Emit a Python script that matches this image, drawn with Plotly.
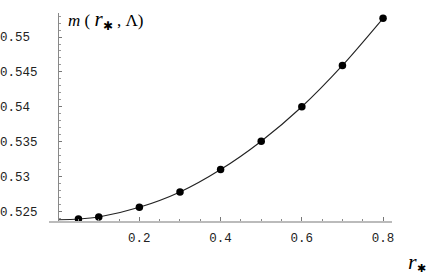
import plotly.graph_objects as go

# data
r_star = [0.05, 0.1, 0.2, 0.3, 0.4, 0.5, 0.6, 0.7, 0.8]
m_vals = [0.52389, 0.52418, 0.52557, 0.52777, 0.53099, 0.53506, 0.54000, 0.54593, 0.55269]
curve_r = [0.0, 0.05, 0.1, 0.2, 0.3, 0.4, 0.5, 0.6, 0.7, 0.8]
curve_m = [0.52378, 0.52389, 0.52418, 0.52557, 0.52777, 0.53099, 0.53506, 0.54000, 0.54593, 0.55269]

x_ticks = [0.2, 0.4, 0.6, 0.8]
x_ticklabels = ["0.2", "0.4", "0.6", "0.8"]
x_minor = [0.05, 0.1, 0.15, 0.25, 0.3, 0.35, 0.45, 0.5, 0.55, 0.65, 0.7, 0.75]
y_ticks = [0.525, 0.53, 0.535, 0.54, 0.545, 0.55]
y_ticklabels = ["0.525", "0.53\u00a0", "0.535", "0.54\u00a0", "0.545", "0.55\u00a0"]

W, H = 426, 273
ml, mr, mt, mb = 49, 34, 13, 52
x_range = [-0.0225, 0.822]
y_range = [0.52361, 0.55345]
plot_w = W - ml - mr
y_axis_pos = (0 - x_range[0]) / (x_range[1] - x_range[0])

fig = go.Figure()
fig.add_trace(go.Scatter(
    x=curve_r, y=curve_m, mode="lines", line=dict(color="#222", width=1.1, shape="spline", smoothing=0.8),
    hoverinfo="skip", showlegend=False))
fig.add_trace(go.Scatter(
    x=r_star, y=m_vals, mode="markers", marker=dict(color="black", size=7.5),
    showlegend=False))

mono = dict(family="Liberation Mono, DejaVu Sans Mono, monospace", size=12.5, color="#222")

fig.update_layout(
    width=W, height=H,
    margin=dict(l=ml, r=mr, t=mt, b=mb, autoexpand=False),
    paper_bgcolor="white", plot_bgcolor="white",
    xaxis=dict(
        range=x_range, showgrid=False, zeroline=False, automargin=False,
        showline=True, linecolor="#bbbbbb", linewidth=2,
        tickmode="array", tickvals=x_ticks, ticktext=x_ticklabels,
        ticks="inside", ticklen=4, tickcolor="#777", tickwidth=1,
        minor=dict(tickmode="array", tickvals=x_minor, ticks="inside", ticklen=2, tickcolor="#888"),
        tickfont=mono, ticklabelstandoff=4,
    ),
    yaxis=dict(
        range=y_range, showgrid=False, zeroline=False, automargin=False,
        anchor="free", position=y_axis_pos,
        showline=True, linecolor="#888888", linewidth=1,
        tickmode="array", tickvals=y_ticks, ticktext=y_ticklabels,
        ticks="inside", ticklen=3, tickcolor="#777", tickwidth=1,
        minor=dict(dtick=0.001, tick0=0.525, ticks="inside", ticklen=2, tickcolor="#999"),
        tickfont=mono, ticklabelstandoff=18,
    ),
    annotations=[
        dict(xref="paper", yref="paper", x=(66 - ml) / plot_w, y=1.0, xanchor="left", yanchor="middle",
             yshift=-7,
             text="<i>m</i> ( <span style='font-size:21px'><i>r</i></span><sub>\u2731</sub> , \u039b)",
             showarrow=False, font=dict(family="Liberation Serif, Times New Roman, serif", size=17, color="black")),
        dict(xref="paper", yref="paper", x=(406 - ml) / plot_w, y=0, xanchor="left", yanchor="middle",
             yshift=-40,
             text="<span style='font-size:22px'><i>r</i></span><sub>\u2731</sub>",
             showarrow=False, font=dict(family="Liberation Serif, Times New Roman, serif", size=15, color="black")),
    ],
)

fig.write_html("out.html", config={"displayModeBar": False},
               post_script="document.body.style.margin='0';document.body.style.overflow='hidden';")
